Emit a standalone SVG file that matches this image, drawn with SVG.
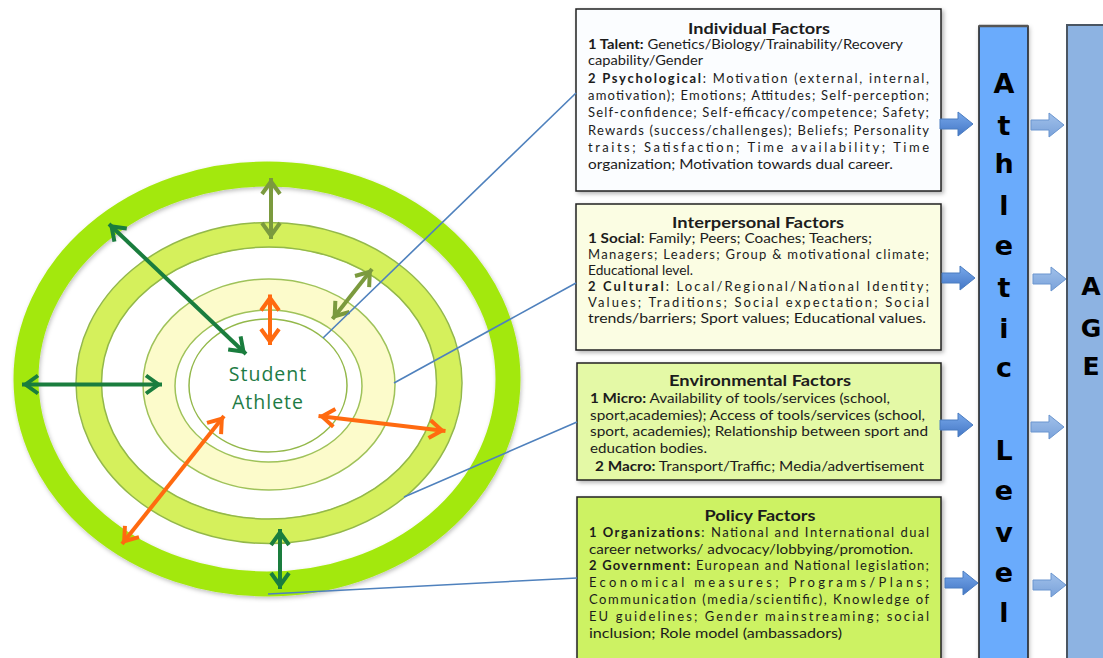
<svg xmlns="http://www.w3.org/2000/svg" width="1103" height="658" viewBox="0 0 1103 658">
<style>
.body{font-family:Lato,"Open Sans","Liberation Sans",sans-serif;font-size:13px;fill:#1c1c1c}
.ttl{font-family:Lato,"Open Sans","Liberation Sans",sans-serif;font-size:15px;font-weight:bold;fill:#1c1c1c}
.b{font-weight:bold}
.box{stroke:#222;stroke-width:1.5}
.vl{font-family:"DejaVu Sans",Verdana,sans-serif;font-weight:bold;font-size:27px;fill:#000;text-anchor:middle}
.ag{font-family:"DejaVu Sans",Verdana,sans-serif;font-weight:bold;font-size:25px;fill:#000;text-anchor:middle}
.sa{font-family:"Open Sans",Lato,sans-serif;font-size:19.5px;fill:#1e7b45;letter-spacing:1px;text-anchor:middle}
.edge{fill:none;stroke:#93b84a;stroke-width:1.5}
.blue{stroke:#4f81bd;stroke-width:1.6;fill:none}
.dg{stroke:#1a7d3e;stroke-width:4;fill:none;marker-start:url(#mdg);marker-end:url(#mdg)}
.ol{stroke:#7b9a3e;stroke-width:4;fill:none;marker-start:url(#mol);marker-end:url(#mol)}
.or{stroke:#ff6a10;stroke-width:4;fill:none;marker-start:url(#mor);marker-end:url(#mor)}
.la{fill:url(#gl);stroke:#4a7cc0;stroke-width:1}
.ra{fill:url(#gr);stroke:#6a95cf;stroke-width:1}
</style>
<defs>
<filter id="sh" x="-10%" y="-10%" width="125%" height="125%"><feDropShadow dx="2" dy="2" stdDeviation="2" flood-color="#000" flood-opacity="0.3"/></filter>
<filter id="sh2" x="-10%" y="-10%" width="125%" height="125%"><feDropShadow dx="1" dy="2" stdDeviation="2" flood-color="#000" flood-opacity="0.25"/></filter>
<linearGradient id="gl" x1="0" y1="0" x2="0" y2="1"><stop offset="0" stop-color="#78a8ea"/><stop offset="1" stop-color="#4477c6"/></linearGradient>
<linearGradient id="gr" x1="0" y1="0" x2="0" y2="1"><stop offset="0" stop-color="#a0c0ea"/><stop offset="1" stop-color="#7aa2da"/></linearGradient>
<marker id="mdg" markerUnits="userSpaceOnUse" viewBox="-20 -12 22 24" refX="0" refY="0" markerWidth="22" markerHeight="24" orient="auto-start-reverse"><path d="M-16,-9 L-3.5,0 L-16,9" fill="none" stroke="#1a7d3e" stroke-width="4"/></marker>
<marker id="mol" markerUnits="userSpaceOnUse" viewBox="-20 -12 22 24" refX="0" refY="0" markerWidth="22" markerHeight="24" orient="auto-start-reverse"><path d="M-16,-9 L-3.5,0 L-16,9" fill="none" stroke="#7b9a3e" stroke-width="4"/></marker>
<marker id="mor" markerUnits="userSpaceOnUse" viewBox="-20 -12 22 24" refX="0" refY="0" markerWidth="22" markerHeight="24" orient="auto-start-reverse"><path d="M-16,-9 L-3.5,0 L-16,9" fill="none" stroke="#ff6a10" stroke-width="4"/></marker>
<path id="barr" d="M0,-5 H18 V-12 L33,0 L18,12 V5 H0 Z"/>
</defs>
<rect width="1103" height="658" fill="#fff"/>

<g id="student-athlete">
<ellipse cx="267" cy="379" rx="241" ry="205" fill="none" stroke="#a3e80f" stroke-width="25" filter="url(#sh2)"/>
<ellipse cx="269" cy="383" rx="180" ry="148" fill="none" stroke="#d5f05c" stroke-width="25"/>
<ellipse class="edge" cx="269" cy="383" rx="193" ry="160.5"/>
<ellipse class="edge" cx="269" cy="383" rx="167.5" ry="136"/>
<ellipse cx="269" cy="384.5" rx="126" ry="105.5" fill="#fcfbcb" stroke="#9fc25a" stroke-width="1.5"/>
<ellipse cx="268.5" cy="386" rx="93.5" ry="76" fill="#fff" stroke="#9fc25a" stroke-width="1.5"/>
<ellipse class="edge" cx="268" cy="385.5" rx="79" ry="66.5"/>
<text class="sa" x="268" y="381">Student</text>
<text class="sa" x="268" y="408.5">Athlete</text>
</g>

<g id="individual-factors">
<rect class="box" x="576" y="9" width="365" height="182" fill="#fbfdff" filter="url(#sh)"/>
<text class="ttl" x="759" y="33.5" text-anchor="middle" textLength="142" lengthAdjust="spacingAndGlyphs">Individual Factors</text>
<text class="body" x="588" y="48.7" textLength="315" lengthAdjust="spacingAndGlyphs"><tspan class="b">1 Talent:</tspan> Genetics/Biology/Trainability/Recovery</text>
<text class="body" x="588" y="65.3" textLength="115" lengthAdjust="spacingAndGlyphs">capability/Gender</text>
<text class="body" x="588" y="83" textLength="341" lengthAdjust="spacing"><tspan class="b">2 Psychological</tspan>: Motivation (external, internal,</text>
<text class="body" x="588" y="100.3" textLength="341" lengthAdjust="spacing">amotivation); Emotions; Attitudes; Self-perception;</text>
<text class="body" x="588" y="117" textLength="341" lengthAdjust="spacing">Self-confidence; Self-efficacy/competence; Safety;</text>
<text class="body" x="588" y="134.7" textLength="341" lengthAdjust="spacing">Rewards (success/challenges); Beliefs; Personality</text>
<text class="body" x="588" y="152" textLength="341" lengthAdjust="spacing">traits; Satisfaction; Time availability; Time</text>
<text class="body" x="588" y="168.7" textLength="305" lengthAdjust="spacingAndGlyphs">organization; Motivation towards dual career.</text>
</g>

<g id="interpersonal-factors">
<rect class="box" x="576" y="204" width="365" height="146" fill="#fbfde3" filter="url(#sh)"/>
<text class="ttl" x="758" y="227.5" text-anchor="middle" textLength="172" lengthAdjust="spacingAndGlyphs">Interpersonal Factors</text>
<text class="body" x="588" y="243" textLength="284" lengthAdjust="spacingAndGlyphs"><tspan class="b">1 Social</tspan>: Family; Peers; Coaches; Teachers;</text>
<text class="body" x="588" y="259" textLength="341" lengthAdjust="spacing">Managers; Leaders; Group &amp; motivational climate;</text>
<text class="body" x="588" y="274.7" textLength="105" lengthAdjust="spacingAndGlyphs">Educational level.</text>
<text class="body" x="588" y="291" textLength="341" lengthAdjust="spacing"><tspan class="b">2 Cultural</tspan>: Local/Regional/National Identity;</text>
<text class="body" x="588" y="307" textLength="341" lengthAdjust="spacing">Values; Traditions; Social expectation; Social</text>
<text class="body" x="588" y="323" textLength="338" lengthAdjust="spacingAndGlyphs">trends/barriers; Sport values; Educational values.</text>
</g>

<g id="environmental-factors">
<rect class="box" x="577" y="363" width="364" height="117" fill="#e4f9a6" filter="url(#sh)"/>
<text class="ttl" x="760" y="386" text-anchor="middle" textLength="182" lengthAdjust="spacingAndGlyphs">Environmental Factors</text>
<text class="body" x="590" y="403" textLength="300" lengthAdjust="spacingAndGlyphs"><tspan class="b">1 Micro:</tspan> Availability of tools/services (school,</text>
<text class="body" x="590" y="419.7" textLength="335" lengthAdjust="spacingAndGlyphs">sport,academies); Access of tools/services (school,</text>
<text class="body" x="590" y="436.3" textLength="338" lengthAdjust="spacingAndGlyphs">sport, academies); Relationship between sport and</text>
<text class="body" x="590" y="453" textLength="117" lengthAdjust="spacingAndGlyphs">education bodies.</text>
<text class="body" x="595" y="470.7" textLength="329" lengthAdjust="spacingAndGlyphs"><tspan class="b">2 Macro:</tspan> Transport/Traffic; Media/advertisement</text>
</g>

<g id="policy-factors">
<rect class="box" x="577" y="497" width="364" height="175" fill="#cdf264" filter="url(#sh)"/>
<text class="ttl" x="760" y="521.3" text-anchor="middle" textLength="111" lengthAdjust="spacingAndGlyphs">Policy Factors</text>
<text class="body" x="589" y="537" textLength="340" lengthAdjust="spacing"><tspan class="b">1 Organizations</tspan>: National and International dual</text>
<text class="body" x="589" y="553.7" textLength="324" lengthAdjust="spacingAndGlyphs">career networks/ advocacy/lobbying/promotion.</text>
<text class="body" x="589" y="570.3" textLength="340" lengthAdjust="spacing"><tspan class="b">2 Government:</tspan> European and National legislation;</text>
<text class="body" x="589" y="587" textLength="340" lengthAdjust="spacing">Economical measures; Programs/Plans;</text>
<text class="body" x="589" y="603.7" textLength="340" lengthAdjust="spacing">Communication (media/scientific), Knowledge of</text>
<text class="body" x="589" y="621" textLength="340" lengthAdjust="spacing">EU guidelines; Gender mainstreaming; social</text>
<text class="body" x="589" y="637.7" textLength="253" lengthAdjust="spacingAndGlyphs">inclusion; Role model (ambassadors)</text>
</g>

<g id="athletic-level">
<rect x="979" y="26" width="49" height="640" fill="#6aabfc" stroke="#1e1e1e" stroke-width="1.5" filter="url(#sh2)"/>
<line x1="979" y1="26" x2="1028" y2="26" stroke="#555" stroke-width="2.5"/>
<text class="vl"><tspan x="1004" y="93">A</tspan><tspan x="1004" y="135">t</tspan><tspan x="1004" y="173">h</tspan><tspan x="1004" y="215">l</tspan><tspan x="1004" y="255">e</tspan><tspan x="1004" y="297">t</tspan><tspan x="1004" y="338">i</tspan><tspan x="1004" y="377">c</tspan><tspan x="1004" y="460">L</tspan><tspan x="1004" y="500">e</tspan><tspan x="1004" y="542">v</tspan><tspan x="1004" y="582">e</tspan><tspan x="1004" y="622">l</tspan></text>
</g>

<g id="age">
<rect x="1067" y="25" width="50" height="640" fill="#8db3e2" stroke="#4a5562" stroke-width="2"/>
<text class="ag"><tspan x="1091" y="295">A</tspan><tspan x="1091" y="337">G</tspan><tspan x="1091" y="375">E</tspan></text>
</g>

<g id="connectors">
<line class="dg" x1="109" y1="224" x2="246" y2="354"/>
<line class="dg" x1="22" y1="384.5" x2="162" y2="384.5"/>
<line class="dg" x1="280" y1="529" x2="280" y2="589"/>
<line class="ol" x1="271" y1="178" x2="271" y2="239"/>
<line class="ol" x1="372" y1="269" x2="332.5" y2="319"/>
<line class="or" x1="270" y1="294.5" x2="270" y2="345"/>
<line class="or" x1="224" y1="416" x2="122" y2="544"/>
<line class="or" x1="318.5" y1="416" x2="445.5" y2="431"/>
<line class="blue" x1="323" y1="338" x2="576" y2="93"/>
<line class="blue" x1="394" y1="383" x2="576" y2="283"/>
<line class="blue" x1="404" y1="497" x2="577" y2="422"/>
<line class="blue" x1="268" y1="594" x2="577" y2="578"/>
<use href="#barr" class="la" transform="translate(940,124)"/>
<use href="#barr" class="la" transform="translate(942,278)"/>
<use href="#barr" class="la" transform="translate(940,425)"/>
<use href="#barr" class="la" transform="translate(945,583)"/>
<use href="#barr" class="ra" transform="translate(1031,125)"/>
<use href="#barr" class="ra" transform="translate(1033,279)"/>
<use href="#barr" class="ra" transform="translate(1031,427)"/>
<use href="#barr" class="ra" transform="translate(1033,585)"/>
</g>
</svg>
